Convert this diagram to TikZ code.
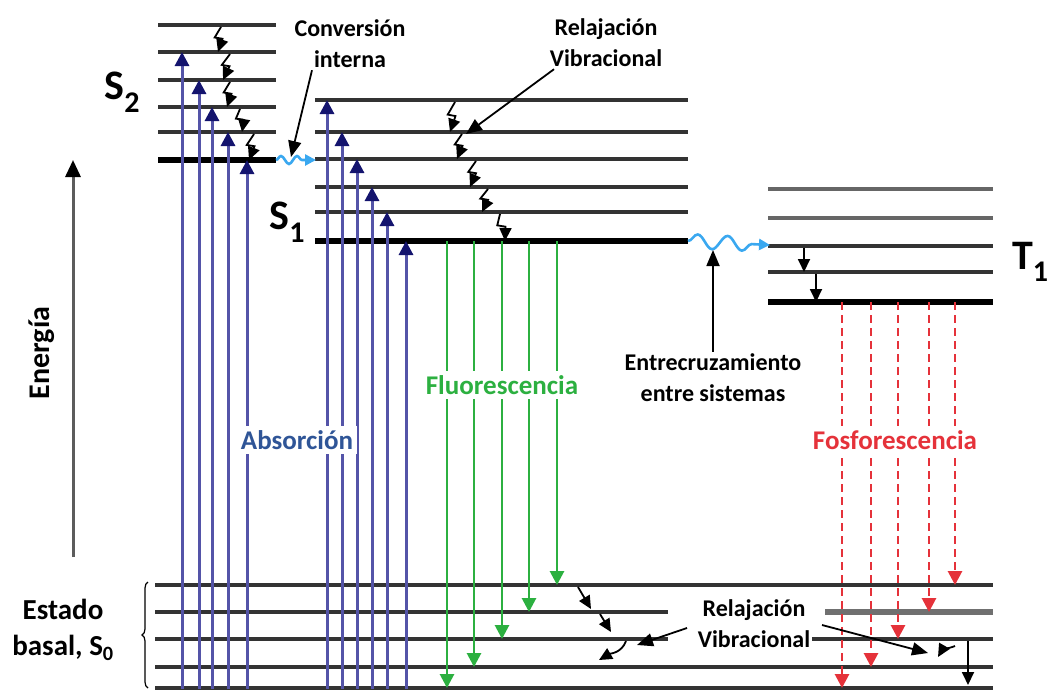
\documentclass[tikz,border=0pt]{standalone}
\usepackage{fontspec}
\setmainfont{Carlito}
\usetikzlibrary{arrows.meta,decorations.pathmorphing,decorations.pathreplacing,positioning,calc}

\definecolor{absline}{HTML}{5454A8}
\definecolor{abshead}{HTML}{14146E}
\definecolor{abstext}{HTML}{2F5597}
\definecolor{fluocol}{HTML}{2CB040}
\definecolor{fosfocol}{HTML}{E5323A}
\definecolor{wavecol}{HTML}{3AA8F0}
\definecolor{levelcol}{HTML}{333333}

\tikzset{
  levelline/.style={levelcol, line width=3.2pt},
  zeroline/.style={black, line width=6pt},
  absup/.style={absline, line width=3pt, -{Triangle[width=14pt,length=14pt,color=abshead]}},
  fluodown/.style={fluocol, line width=2.8pt, -{Triangle[width=14pt,length=14pt]}},
  fosfodown/.style={fosfocol, line width=2.8pt, dash pattern=on 8pt off 5pt, -{Triangle[width=14pt,length=14pt]}},
  vibarrow/.style={black, line width=1.8pt, -{Triangle[width=12pt,length=13pt]}},
  pointer/.style={black, line width=1.8pt, -{Triangle[width=13pt,length=16pt]}},
  wavy/.style={wavecol, line width=2.6pt, decorate, decoration={snake, amplitude=4pt, segment length=16pt, post length=8pt}, -{Triangle[width=11pt,length=11pt]}},
  lbl/.style={font=\fontsize{24}{31}\selectfont\bfseries, align=center, inner sep=2pt},
  proc/.style={font=\fontsize{27}{32}\selectfont\bfseries, fill=white, inner sep=4pt},
  statelbl/.style={font=\fontsize{42}{42}\selectfont\bfseries, inner sep=0pt}
}

% little lightning-shaped drop between two levels
\newcommand\vibdrop[4]{\draw[vibarrow] (#1,#2) -- ({#1+0.45*(#3-#1)-5},{#2+0.42*(#4-#2)}) -- ({#1+0.5*(#3-#1)+3},{#2+0.47*(#4-#2)}) -- (#3,#4);}

\begin{document}
\begin{tikzpicture}[x=1pt,y=-1pt]
\useasboundingbox (0,0) rectangle (1054,689);

% S2 levels
\foreach \y in {25,52,80,107,132}
  \draw[levelline] (158,\y) -- (276,\y);
\draw[zeroline] (158,160) coordinate (s2a) -- (276,160) coordinate (s2b);

% S1 levels
\foreach \y in {100,132,159,187,212}
  \draw[levelline] (315,\y) -- (688,\y);
\draw[zeroline] (315,241) coordinate (s1a) -- (688,241) coordinate (s1b);

% T1 levels
\foreach \y in {189,218}
  \draw[levelline, levelcol!75] (768,\y) -- (993,\y);
\foreach \y in {246,272}
  \draw[levelline] (768,\y) -- (993,\y);
\draw[zeroline] (768,302) coordinate (t1a) -- (993,302);

% S0 levels
\draw[levelline] (155,585) -- (993,585);
\draw[levelline] (155,612) -- (668,612);
\draw[levelcol!70, line width=5.5pt] (825,612) -- (993,612);
\draw[levelline] (155,639) -- (668,639);
\draw[levelline] (793,639) -- (993,639);
\draw[levelline] (155,667) -- (993,667);
\draw[levelline] (155,688) -- (993,688);

% Energy axis
\draw[levelcol!80, line width=3pt, -{Triangle[width=15pt,length=17pt,color=black]}] (73,557) -- (73,160);
\node[font=\fontsize{30}{30}\selectfont\bfseries, rotate=90] (energia) at (42,353) {Energía};

% absorption
\foreach \x/\y in {182/52,199/80,212/107,228/132,247/160}
  \draw[absup] (\x,689) -- (\x,\y);
\foreach \x/\y in {327/100,342/132,357/159,372/187,387/212,406/241}
  \draw[absup] (\x,689) -- (\x,\y);

% fluorescence
\foreach \x/\y in {447/688,474/667,502/639,529/612,557/585}
  \draw[fluodown] (\x,241) -- (\x,\y);

% phosphorescence
\foreach \x/\y in {842/688,871/667,898/639,929/612,955/585}
  \draw[fosfodown] (\x,302) -- (\x,\y);

% vibrational relaxation S2
\vibdrop{221}{27}{218}{52}
\vibdrop{230}{54}{223}{80}
\vibdrop{230}{82}{227}{107}
\vibdrop{240}{109}{242}{132}
\vibdrop{254}{134}{249}{160}

% vibrational relaxation S1
\vibdrop{455}{102}{450}{132}
\vibdrop{462}{134}{457}{159}
\vibdrop{476}{161}{470}{187}
\vibdrop{488}{189}{482}{212}
\vibdrop{500}{214}{505}{241}

% vibrational relaxation T1
\draw[vibarrow] (804,248) -- (804,272);
\draw[vibarrow] (816,274) -- (816,302);

% vibrational relaxation S0
\draw[vibarrow] (578,587) -- (591,609);
\draw[vibarrow] (600,614) -- (611,632);
\draw[vibarrow] (626,641) to[out=-110,in=30] (599,660);
\draw[vibarrow] (955,646) to[out=200,in=60] (938,657);
\draw[vibarrow] (968,641) -- (968,685);

% internal conversion and intersystem crossing
\draw[wavy] (s2b) -- (316,160);
\draw[wavy, decoration={snake, amplitude=7pt, segment length=30pt, post length=12pt}] (s1b) -- (770,245);

% labels
\node[lbl] (convint) at (350,44) {Conversión\\interna};
\draw[pointer] ($(convint.south)+(-38,0)$) -- (291,157);

\node[lbl] (relaxtop) at (606,43) {Relajación\\Vibracional};
\draw[pointer] ($(relaxtop.south)+(-52,0)$) -- (466,134);

\node[lbl] (isc) at (713,378) {Entrecruzamiento\\entre sistemas};
\draw[pointer] (isc.north) -- (713,250);

\draw[pointer] (687,628) -- (637,645);
\draw[pointer] (822,625) -- (928,653);
\node[lbl, fill=white] (relaxbot) at (754,624) {Relajación\\Vibracional};

\node[proc, text=abstext] (absorcion) at (297,440) {Absorción};
\node[proc, text=fluocol] (fluor) at (502,385) {Fluorescencia};
\node[proc, text=fosfocol] (fosfor) at (895,440) {Fosforescencia};

% state labels
\node[statelbl] (s2lbl) at (122,92) {S\raisebox{-0.3em}{\fontsize{30}{30}\selectfont 2}};
\node[statelbl] (s1lbl) at (287,222) {S\raisebox{-0.3em}{\fontsize{30}{30}\selectfont 1}};
\node[statelbl] (t1lbl) at (1030,262) {T\raisebox{-0.3em}{\fontsize{30}{30}\selectfont 1}};

% ground state
\draw[decorate, decoration={brace, amplitude=6pt}, line width=1.2pt] (148,688) -- (148,582);
\node[font=\fontsize{29}{36}\selectfont\bfseries, align=center] (s0lbl) at (63,630) {Estado\\basal, S\textsubscript{0}};
\end{tikzpicture}
\end{document}
